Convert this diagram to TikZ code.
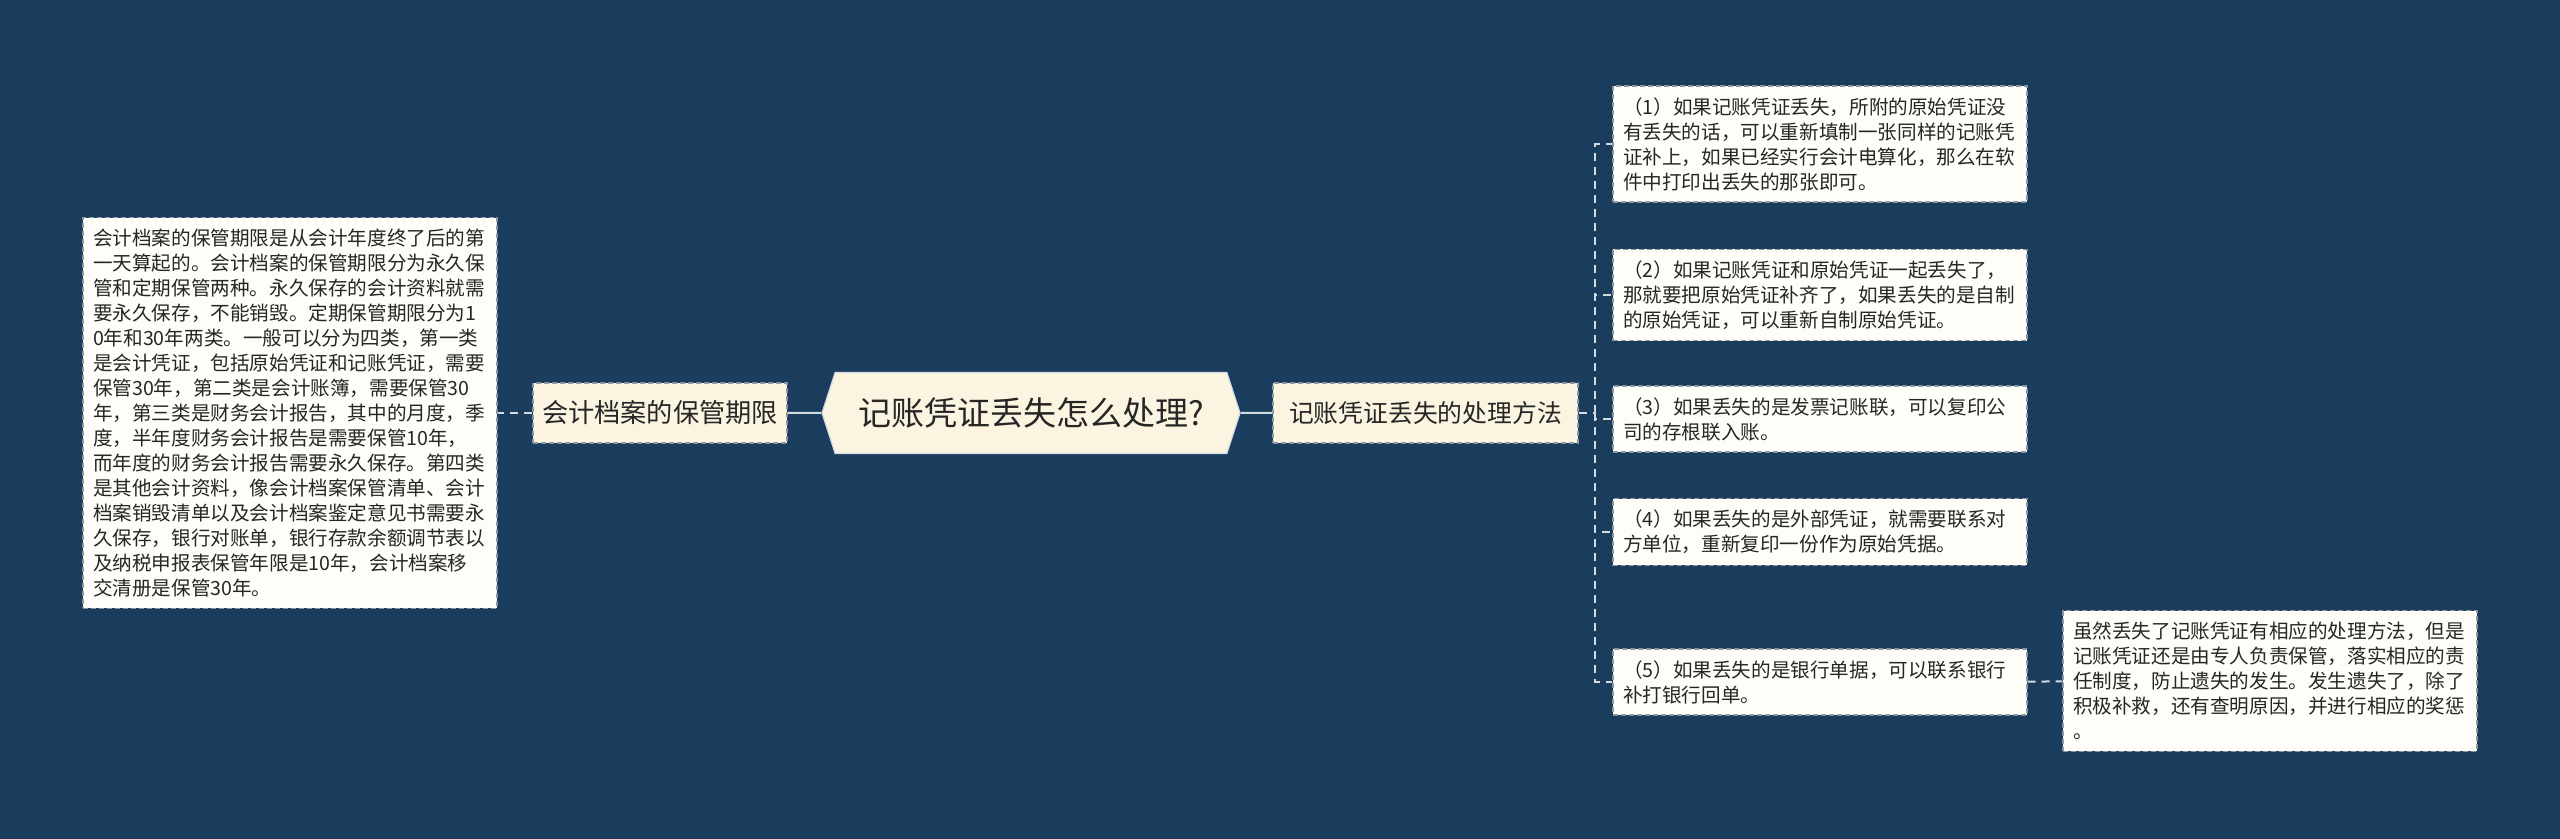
\documentclass[tikz,border=0pt]{standalone}
\usepackage{fontspec}
\setmainfont{Noto Sans CJK SC}
\usepackage{tikz}
\usetikzlibrary{shapes.symbols}
\definecolor{bgblue}{HTML}{1A3D5E}
\definecolor{creamfill}{HTML}{FAF4E0}
\definecolor{leaffill}{HTML}{FFFDF7}
\definecolor{linkcol}{HTML}{D3DAE2}
\definecolor{rimcol}{HTML}{8C96A0}

\begin{document}
\begin{tikzpicture}[x=0.5pt,y=-0.5pt,line width=1pt,
    root node/.style={signal,signal to=west and east,signal pointer angle=144,draw=linkcol,fill=creamfill,
                      line width=0.6pt,minimum width=209pt,minimum height=40.5pt,inner xsep=0pt,
                      text=black!85,font=\fontsize{16.5pt}{20pt}\selectfont},
    branch node/.style={rectangle,draw=rimcol,fill=creamfill,line width=0.6pt,dash pattern=on 2.5pt off 1.5pt,
                        minimum height=30pt,inner xsep=0pt,text=black!85},
    leaf node/.style={rectangle,draw=rimcol,fill=leaffill,line width=0.6pt,dash pattern=on 2.5pt off 1.5pt,
                      text width=197pt,align=left,inner xsep=5pt,inner ysep=5.6pt,text=black!85,
                      font=\fontsize{9.8pt}{12.5pt}\selectfont},
    solid link/.style={draw=linkcol,line width=1pt},
    dash link/.style={draw=linkcol,line width=1pt,dash pattern=on 4pt off 3pt},
    elbow/.style={to path={|- (\tikztotarget)}}]

  \fill[bgblue] (0,0) rectangle (2560,839);

  \node[root node] (root) at (1031,413) {记账凭证丢失怎么处理?};

  \node[branch node, minimum width=127pt, font=\fontsize{13.1pt}{16pt}\selectfont] (keep) at (660,413) {会计档案的保管期限};
  \node[branch node, minimum width=152.5pt, font=\fontsize{12.4pt}{15pt}\selectfont] (way) at (1425.5,413) {记账凭证丢失的处理方法};

  \node[leaf node] (K) at (290,413) {会计档案的保管期限是从会计年度终了后的第\\
    一天算起的。会计档案的保管期限分为永久保\\
    管和定期保管两种。永久保存的会计资料就需\\
    要永久保存，不能销毁。定期保管期限分为1\\
    0年和30年两类。一般可以分为四类，第一类\\
    是会计凭证，包括原始凭证和记账凭证，需要\\
    保管30年，第二类是会计账簿，需要保管30\\
    年，第三类是财务会计报告，其中的月度，季\\
    度，半年度财务会计报告是需要保管10年，\\
    而年度的财务会计报告需要永久保存。第四类\\
    是其他会计资料，像会计档案保管清单、会计\\
    档案销毁清单以及会计档案鉴定意见书需要永\\
    久保存，银行对账单，银行存款余额调节表以\\
    及纳税申报表保管年限是10年，会计档案移\\
    交清册是保管30年。};

  \node[leaf node] (1) at (1820,144) {（1）如果记账凭证丢失，所附的原始凭证没\\
    有丢失的话，可以重新填制一张同样的记账凭\\
    证补上，如果已经实行会计电算化，那么在软\\
    件中打印出丢失的那张即可。};
  \node[leaf node] (2) at (1820,295) {（2）如果记账凭证和原始凭证一起丢失了，\\
    那就要把原始凭证补齐了，如果丢失的是自制\\
    的原始凭证，可以重新自制原始凭证。};
  \node[leaf node] (3) at (1820,419) {（3）如果丢失的是发票记账联，可以复印公\\
    司的存根联入账。};
  \node[leaf node] (4) at (1820,532) {（4）如果丢失的是外部凭证，就需要联系对\\
    方单位，重新复印一份作为原始凭据。};
  \node[leaf node] (5) at (1820,682) {（5）如果丢失的是银行单据，可以联系银行\\
    补打银行回单。};

  \node[leaf node] (N) at (2270,681) {虽然丢失了记账凭证有相应的处理方法，但是\\
    记账凭证还是由专人负责保管，落实相应的责\\
    任制度，防止遗失的发生。发生遗失了，除了\\
    积极补救，还有查明原因，并进行相应的奖惩\\
    。};

  \coordinate (fork) at (1595,413);

  \path[solid link] (root) edge (keep)
                    (root) edge (way);
  \path[dash link] (keep) edge (K)
                   (way.east) edge (fork)
                   (fork) edge[elbow] (1)
                   (fork) edge[elbow] (2)
                   (fork) edge[elbow] (3)
                   (fork) edge[elbow] (4)
                   (fork) edge[elbow] (5)
                   (5) edge (N);
\end{tikzpicture}
\end{document}
